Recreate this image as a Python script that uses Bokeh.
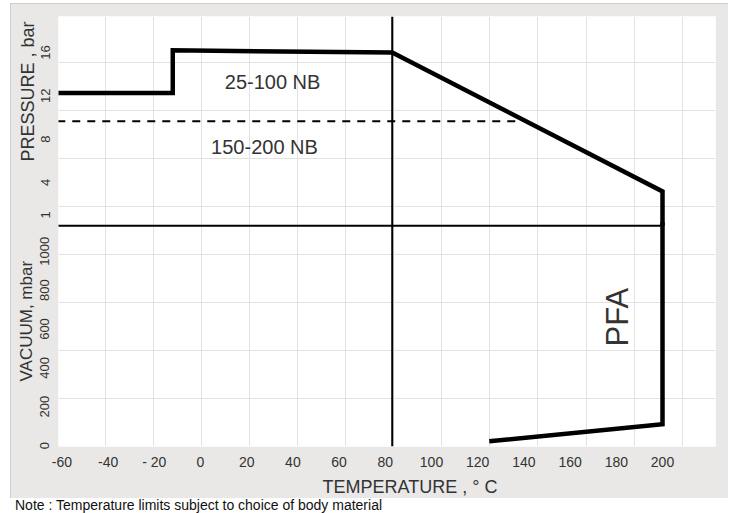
import math
from bokeh.plotting import figure
from bokeh.models import Range1d, LinearAxis, FixedTicker, Grid, Span, Label, Div, Title
from bokeh.layouts import column
from bokeh.embed import file_html
from bokeh.resources import INLINE

# ---------------- data ----------------
temp_ticks = [-60, -40, -20, 0, 20, 40, 60, 80, 100, 120, 140, 160, 180, 200]
temp_tick_text = {-60: "-60", -40: "-40", -20: "- 20"}
pressure_ticks = [1, 4, 8, 12, 16]
vacuum_ticks = [0, 200, 400, 600, 800, 1000]

# 25-100 NB / PFA limit (pressure part, bar)
nb25_temp = [-62, -12, -12, 83, 200, 200]
nb25_pressure = [12.25, 12.25, 16.2, 16.0, 3.17, 0.0]
# PFA limit (vacuum part, mbar)
pfa_temp = [200, 200, 125]
pfa_vacuum = [1150, 110, 22]
# 150-200 NB limit (dashed)
nb150_temp = [-62, 139]
nb150_pressure = [9.66, 9.66]
# atmospheric divider line
atm_temp = [-62, 200]
atm_pressure = [0.0, 0.0]
# vertical reference temperature
ref_temp = 83

FONT = "Liberation Sans"
TXT = "#333333"

p = figure(width=718, height=495,
           x_range=Range1d(-61.47, 222.94), y_range=Range1d(-20.39, 19.325),
           output_backend="svg", toolbar_location=None,
           x_axis_location=None, y_axis_location=None,
           min_border_left=48, min_border_right=13, min_border_top=13, min_border_bottom=50,
           background_fill_color="white", border_fill_color="#e9e8e6",
           outline_line_color=None)
p.margin = (3, 0, 0, 10)
p.styles = {"outline": "1px solid #c6c6c6", "outline-offset": "-1px"}
p.extra_y_ranges = {"vac": Range1d(-5.1, 2209)}
p.grid.visible = False

# grid (square drawing grid)
grid_x = [-41.1 + 20.8 * i for i in range(13)]
grid_y = [15.10 - 4.44 * i for i in range(8)]
p.add_layout(Grid(dimension=0, ticker=FixedTicker(ticks=grid_x),
                  grid_line_color="#e2e2e2", grid_line_width=1), "center")
p.add_layout(Grid(dimension=1, ticker=FixedTicker(ticks=grid_y),
                  grid_line_color="#e2e2e2", grid_line_width=1), "center")

# axes
def style_axis(ax, size):
    ax.axis_line_color = None
    ax.major_tick_out = 0
    ax.major_tick_in = 0
    ax.minor_tick_out = 0
    ax.minor_tick_in = 0
    ax.major_label_text_font = FONT
    ax.major_label_text_font_size = size
    ax.major_label_text_color = TXT

xaxis = LinearAxis(ticker=FixedTicker(ticks=temp_ticks), major_label_overrides=temp_tick_text,
                   major_label_standoff=7)
style_axis(xaxis, "14px")
p.add_layout(xaxis, "below")

paxis = LinearAxis(ticker=FixedTicker(ticks=pressure_ticks), major_label_orientation="vertical",
                   major_label_standoff=8)
style_axis(paxis, "13px")
p.add_layout(paxis, "left")

vaxis = LinearAxis(y_range_name="vac", ticker=FixedTicker(ticks=vacuum_ticks),
                   major_label_orientation="vertical", major_label_standoff=-11)
style_axis(vaxis, "13px")
p.add_layout(vaxis, "left")

def title(text, side, offset, standoff, size):
    p.add_layout(Title(text=text, align="left", offset=offset, standoff=standoff,
                       text_font=FONT, text_font_size=size, text_font_style="normal",
                       text_color=TXT), side)

title("PRESSURE , bar", "left", 285, 0, "18px")
title("VACUUM, mbar", "left", 65, -40, "17px")
title("TEMPERATURE , ° C", "below", 264, 4, "18px")

# lines
p.add_layout(Span(location=ref_temp, dimension="height", line_color="black", line_width=2))
p.line(atm_temp, atm_pressure, line_color="black", line_width=2)
p.line(nb150_temp, nb150_pressure, line_color="black", line_width=2, line_dash="8 7")
p.line(nb25_temp, nb25_pressure, line_color="black", line_width=4.5, line_join="miter")
p.line(pfa_temp, pfa_vacuum, y_range_name="vac", line_color="black", line_width=4.5,
       line_join="miter")

# texts inside the plot
def lab(x, y, text, size, angle=0.0, yr="default"):
    p.add_layout(Label(x=x, y=y, text=text, angle=angle, y_range_name=yr,
                       text_align="center", text_baseline="middle",
                       text_font=FONT, text_font_size=size, text_color=TXT))

lab(31.2, 13.26, "25-100 NB", "20px")
lab(27.7, 7.28, "150-200 NB", "20px")
lab(180.5, 661, "PFA", "31px", angle=math.pi / 2, yr="vac")

note = Div(text='<div style="font-family:\'Liberation Sans\'; font-size:14px; color:#111;'
                ' line-height:14px; padding-left:15px; white-space:nowrap;">'
                'Note : Temperature limits subject to choice of body material</div>',
           width=700, height=14)
note.margin = (0, 0, 0, 0)

layout = column(p, note)
open("out.html", "w").write(file_html(layout, INLINE))
